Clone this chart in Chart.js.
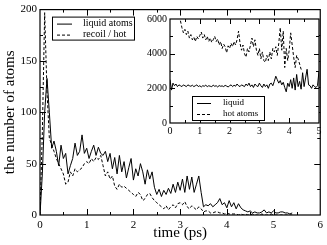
<!DOCTYPE html>
<html>
<head>
<meta charset="utf-8">
<script src="https://cdn.jsdelivr.net/npm/chart.js@4.4.0/dist/chart.umd.min.js"></script>
<style>
  body { margin: 0; background: #fff; }
  #wrap { position: relative; width: 327px; height: 245px; }
  #mainChart { position: absolute; left: 0; top: 0; }
  #insetChart { position: absolute; left: 130px; top: 8px; }
</style>
</head>
<body>
<div id="wrap">
  <canvas id="mainChart" width="327" height="245"></canvas>
  <canvas id="insetChart" width="197" height="132"></canvas>
</div>
<script>
// main panel: number of atoms vs time, sampled every 0.05 ps
const mainStep = 0.05;
const liquidAtoms = [
    0, 40, 100, 133, 100, 65, 72, 62, 48, 68, 55, 60, 40, 48, 55, 70, 58, 62, 78, 60,
    65, 55, 62, 68, 58, 66, 60, 58, 62, 52, 60, 45, 56, 40, 58, 42, 52, 36, 46, 55,
    34, 45, 38, 50, 42, 30, 44, 35, 42, 27, 20, 25, 18, 24, 20, 26, 21, 30, 22, 32,
    24, 35, 22, 38, 25, 37, 22, 30, 38, 22, 8, 10, 9, 11, 8, 10, 12, 16, 10, 12,
    7, 14, 8, 12, 6, 11, 7, 5, 4, 3, 4, 2, 3, 2, 2, 3, 5, 2, 3, 2,
    4, 2, 2, 3, 3, 2, 2, 1, 2
];
const recoilHot = [
    0, 80, 197, 120, 75, 68, 62, 55, 50, 45, 40, 30, 32, 42, 38, 45, 42, 44, 46, 50,
    52, 50, 55, 52, 56, 54, 58, 48, 38, 42, 35, 38, 28, 25, 30, 27, 28, 26, 24, 22,
    20, 18, 22, 20, 14, 16, 20, 21, 17, 14, 12, 10, 8, 6, 9, 5, 8, 10, 7, 11,
    12, 10, 13, 8, 6, 9, 7, 5, 8, 6, 3, 4, 4, 2, 2, 3, 3, 2, 2, 1,
    2, 1, 1, 1, 1, 0, 1, 0, 1, 0, 0, 1, 0, 0, 0, 1, 0, 0, 0, 1,
    0, 0, 0, 0, 0, 0, 0, 0, 0
];

// inset panel
const insetStep = 0.05;
const insetLiquid = [
    2500, 1900, 2300, 2150, 2250, 2100, 2200, 2150, 2100, 2200, 2150, 2100, 2200, 2150, 2120, 2180, 2100, 2150, 2200, 2100,
    2150, 2080, 2150, 2120, 2180, 2100, 2150, 2120, 2100, 2180, 2120, 2150, 2080, 2160, 2120, 2140, 2100, 2170, 2130, 2080,
    2150, 2200, 2100, 2180, 2120, 2250, 2150, 2100, 2200, 2150, 2100, 2250, 2150, 2300, 2100, 2200, 2050, 2250, 2150, 2100,
    2300, 2150, 2050, 2250, 2100, 2200, 2000, 2250, 2300, 2150, 2400, 2700, 2500, 2300, 2450, 2200, 2350, 2050, 1800, 2300,
    2100, 2500, 2000, 2600, 1900, 2800, 2100, 2400, 1950, 2900, 2100, 2600, 3100, 2200, 2150, 2000, 2200, 2100, 2050, 2150,
    3000
];
const hotStart = 0.35;
const insetHot = [
    5900, 5500, 5200, 5400, 5100, 5300, 4900, 5100, 4800, 4950, 4700, 5000, 4850, 5050, 5250, 4900, 5100, 4800, 5000, 4700,
    4900, 4650, 4800, 5000, 4700, 4850, 4500, 4700, 4300, 4550, 4400, 4050, 4450, 4300, 4600, 4400, 4700, 4500, 4800, 5300,
    4600, 4200, 4500, 4000, 3800, 4300, 4100, 4500, 4900, 4400, 4800, 4200, 3900, 4300, 3700, 4100, 3600, 3500, 3900, 3600,
    4100, 3700, 4300, 4100, 4400, 3900, 4600, 5500, 4200, 5300, 3200, 4300, 3600, 4200, 5200, 4500, 3800, 3200, 3900, 3700,
    3400, 3100, 3000
];

const toPoints = (values, start, step) => values.map((v, i) => ({ x: +(start + i * step).toFixed(3), y: v }));

const serif = '"Liberation Serif", "Times New Roman", serif';

// frame with inward ticks on all four sides (grace style)
const framePlugin = {
    id: 'frame',
    beforeDraw(chart, args, opts) {
        if (!opts.fill) return;
        const a = chart.chartArea;
        const c = chart.ctx;
        c.save();
        c.fillStyle = '#fff';
        c.fillRect(a.left, a.top, a.right - a.left, a.bottom - a.top);
        c.restore();
    },
    afterDraw(chart, args, opts) {
        const { ctx: c, chartArea: a, scales } = chart;
        c.save();
        c.strokeStyle = '#000';
        c.lineWidth = 1.2;
        c.strokeRect(a.left, a.top, a.right - a.left, a.bottom - a.top);
        c.lineWidth = 1;
        const tick = (vals, len, horiz) => {
            vals.forEach(v => {
                c.beginPath();
                if (horiz) {
                    const p = Math.round(scales.x.getPixelForValue(v)) + 0.5;
                    c.moveTo(p, a.bottom); c.lineTo(p, a.bottom - len);
                    c.moveTo(p, a.top); c.lineTo(p, a.top + len);
                } else {
                    const p = Math.round(scales.y.getPixelForValue(v)) + 0.5;
                    c.moveTo(a.left, p); c.lineTo(a.left + len, p);
                    c.moveTo(a.right, p); c.lineTo(a.right - len, p);
                }
                c.stroke();
            });
        };
        tick(opts.xMajor, opts.major, true);
        tick(opts.xMinor, opts.minor, true);
        tick(opts.yMajor, opts.major, false);
        tick(opts.yMinor, opts.minor, false);
        c.restore();
    }
};

// boxed legend inside the plot
const boxLegend = {
    id: 'boxLegend',
    afterDraw(chart, args, opts) {
        const c = chart.ctx;
        const a = chart.chartArea;
        const x0 = a.left + opts.x, y0 = a.top + opts.y;
        c.save();
        c.fillStyle = '#fff';
        c.fillRect(x0, y0, opts.w, opts.h);
        c.strokeStyle = '#000';
        c.lineWidth = 1;
        c.strokeRect(x0 + 0.5, y0 + 0.5, opts.w, opts.h);
        c.font = opts.font;
        c.textBaseline = 'middle';
        c.fillStyle = '#000';
        chart.data.datasets.forEach((ds, i) => {
            const yy = y0 + opts.first + i * opts.row;
            c.beginPath();
            c.setLineDash(ds.borderDash || []);
            c.lineWidth = 1;
            c.moveTo(x0 + opts.lineX, yy + 0.5);
            c.lineTo(x0 + opts.lineX + opts.lineW, yy + 0.5);
            c.stroke();
            c.setLineDash([]);
            c.fillText(ds.label, x0 + opts.textX, yy);
        });
        c.restore();
    }
};

new Chart(document.getElementById('mainChart'), {
    type: 'line',
    data: {
        datasets: [
            { label: 'liquid atoms', data: toPoints(liquidAtoms, 0, mainStep), borderColor: '#000', borderWidth: 1, pointRadius: 0, tension: 0 },
            { label: 'recoil / hot', data: toPoints(recoilHot, 0, mainStep), borderColor: '#000', borderWidth: 1, borderDash: [3, 2], pointRadius: 0, tension: 0 }
        ]
    },
    options: {
        responsive: false,
        animation: false,
        devicePixelRatio: 1,
        layout: { padding: { left: 0, right: 5, top: 5, bottom: 0 } },
        plugins: {
            legend: { display: false },
            tooltip: { enabled: false },
            frame: { xMajor: [1, 2, 3, 4, 5], xMinor: [0.5, 1.5, 2.5, 3.5, 4.5, 5.5], yMajor: [50, 100, 150], yMinor: [25, 75, 125, 175], major: 6, minor: 3 },
            boxLegend: { x: 12, y: 7, w: 82, h: 23, first: 7, row: 11, lineX: 5, lineW: 15, textX: 31, font: '10px ' + serif }
        },
        scales: {
            x: {
                type: 'linear', min: 0, max: 6,
                grid: { display: false, drawTicks: false },
                border: { display: false },
                ticks: { stepSize: 1, maxRotation: 0, padding: 4, color: '#000', font: { family: serif, size: 11 } },
                title: { display: true, text: 'time (ps)', color: '#000', font: { family: serif, size: 15 }, padding: { top: 0, bottom: 3 } },
                afterFit: s => { s.height = 30; }
            },
            y: {
                min: 0, max: 200,
                grid: { display: false, drawTicks: false },
                border: { display: false },
                ticks: { stepSize: 50, padding: 3, color: '#000', font: { family: serif, size: 11 } },
                title: { display: true, text: 'the number of atoms', color: '#000', font: { family: serif, size: 15 }, padding: { top: 1, bottom: 0 } },
                afterFit: s => { s.width = 40; }
            }
        }
    },
    plugins: [framePlugin, boxLegend]
});

new Chart(document.getElementById('insetChart'), {
    type: 'line',
    data: {
        datasets: [
            { label: 'liquid', data: toPoints(insetLiquid, 0, insetStep), borderColor: '#000', borderWidth: 1, pointRadius: 0, tension: 0 },
            { label: 'hot atoms', data: toPoints(insetHot, hotStart, insetStep), borderColor: '#000', borderWidth: 1, borderDash: [3, 2], pointRadius: 0, tension: 0 }
        ]
    },
    options: {
        responsive: false,
        animation: false,
        devicePixelRatio: 1,
        layout: { padding: { left: 0, right: 8, top: 11, bottom: 0 } },
        plugins: {
            legend: { display: false },
            tooltip: { enabled: false },
            frame: { fill: true, xMajor: [1, 2, 3, 4], xMinor: [0.5, 1.5, 2.5, 3.5, 4.5], yMajor: [2000, 4000], yMinor: [1000, 3000, 5000], major: 5, minor: 3 },
            boxLegend: { x: 22, y: 77, w: 72, h: 24, first: 7, row: 11, lineX: 5, lineW: 14, textX: 31, font: '9px ' + serif }
        },
        scales: {
            x: {
                type: 'linear', min: 0, max: 5,
                grid: { display: false, drawTicks: false },
                border: { display: false },
                ticks: { stepSize: 1, maxRotation: 0, padding: 2, color: '#000', font: { family: serif, size: 10 } },
                afterFit: s => { s.height = 17; }
            },
            y: {
                min: 0, max: 6000,
                grid: { display: false, drawTicks: false },
                border: { display: false },
                ticks: { stepSize: 2000, padding: 3, color: '#000', font: { family: serif, size: 10 }, callback: v => String(v) },
                afterFit: s => { s.width = 40; }
            }
        }
    },
    plugins: [framePlugin, boxLegend]
});
</script>
</body>
</html>
